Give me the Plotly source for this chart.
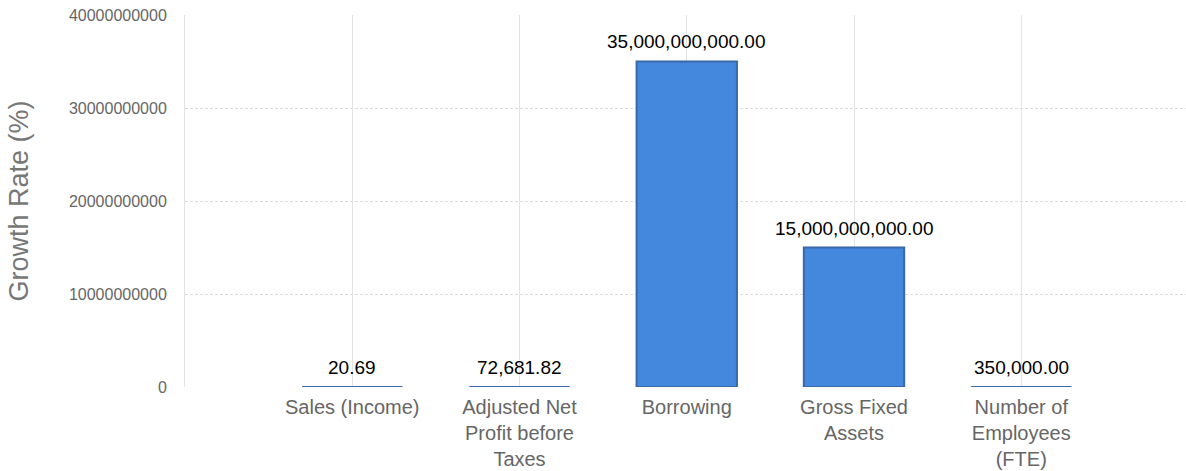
import plotly.graph_objects as go

categories = [
    "Sales (Income)",
    "Adjusted Net<br>Profit before<br>Taxes",
    "Borrowing",
    "Gross Fixed<br>Assets",
    "Number of<br>Employees<br>(FTE)",
]
values = [20.69, 72681.82, 35000000000, 15000000000, 350000]
y_ticks = [0, 10000000000, 20000000000, 30000000000, 40000000000]
y_title = "Growth Rate (%)"

FONT = "Arial, 'Liberation Sans', sans-serif"

fig = go.Figure(
    go.Bar(
        x=categories,
        y=values,
        width=0.6,
        marker=dict(color="#4388DD", line=dict(color="#3A66AA", width=2)),
        cliponaxis=False,
    )
)

for c, v in zip(categories, values):
    fig.add_annotation(
        x=c,
        y=v,
        text=f"{v:,.2f}",
        showarrow=False,
        yanchor="bottom",
        yshift=7,
        font=dict(family=FONT, size=19, color="#000000"),
    )

fig.update_layout(
    width=1186,
    height=471,
    autosize=False,
    margin=dict(l=185, r=0, t=15, b=84),
    paper_bgcolor="white",
    plot_bgcolor="white",
    showlegend=False,
    font=dict(family=FONT, color="#666666"),
)

fig.update_xaxes(
    type="category",
    range=[-1, 4.985],
    showgrid=True,
    gridcolor="#e3e3e3",
    gridwidth=1,
    tickfont=dict(size=20, color="#666666"),
    ticks="",
    ticklabelstandoff=6,
    showline=False,
    zeroline=False,
)

fig.update_yaxes(
    range=[0, 40000000000],
    tickvals=y_ticks,
    ticktext=[str(v) for v in y_ticks],
    showgrid=True,
    gridcolor="#dcdcdc",
    griddash="3px,2px",
    gridwidth=1,
    zeroline=False,
    showline=True,
    linecolor="#e3e3e3",
    linewidth=1,
    ticks="",
    ticklabelstandoff=14,
    tickfont=dict(size=16, color="#666666"),
    title=dict(text=y_title, font=dict(size=27, color="#777777"), standoff=32),
)

fig.write_html("out.html")
